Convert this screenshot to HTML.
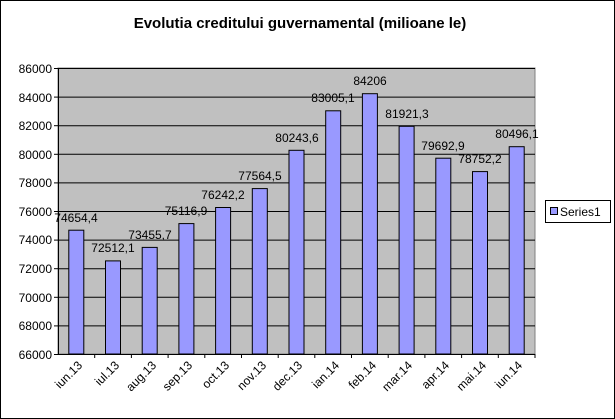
<!DOCTYPE html>
<html><head><meta charset="utf-8"><style>
html,body{margin:0;padding:0;background:#fff}
svg{display:block}
text{font-family:"Liberation Sans",Arial,sans-serif;fill:#000}
</style></head><body>
<svg width="615" height="419" viewBox="0 0 615 419">
<rect x="0.5" y="0.5" width="614" height="418" fill="#fff" stroke="#000"/>
<text x="300" y="28" text-anchor="middle" font-size="15" font-weight="bold">Evolutia creditului guvernamental (milioane le)</text>
<rect x="58" y="68" width="477" height="286" fill="#c0c0c0" stroke="#808080"/>
<g stroke="#000" stroke-width="1">
<line x1="58" y1="68.5" x2="535" y2="68.5"/>
<line x1="58" y1="97.1" x2="535" y2="97.1"/>
<line x1="58" y1="125.7" x2="535" y2="125.7"/>
<line x1="58" y1="154.3" x2="535" y2="154.3"/>
<line x1="58" y1="182.9" x2="535" y2="182.9"/>
<line x1="58" y1="211.5" x2="535" y2="211.5"/>
<line x1="58" y1="240.1" x2="535" y2="240.1"/>
<line x1="58" y1="268.7" x2="535" y2="268.7"/>
<line x1="58" y1="297.3" x2="535" y2="297.3"/>
<line x1="58" y1="325.9" x2="535" y2="325.9"/>
<line x1="58.5" y1="68" x2="58.5" y2="354"/>
<line x1="58" y1="354.5" x2="535" y2="354.5"/>
</g>
<g stroke="#000">
<line x1="54" y1="68.5" x2="58" y2="68.5"/><line x1="54" y1="97.1" x2="58" y2="97.1"/><line x1="54" y1="125.7" x2="58" y2="125.7"/><line x1="54" y1="154.3" x2="58" y2="154.3"/><line x1="54" y1="182.9" x2="58" y2="182.9"/><line x1="54" y1="211.5" x2="58" y2="211.5"/><line x1="54" y1="240.1" x2="58" y2="240.1"/><line x1="54" y1="268.7" x2="58" y2="268.7"/><line x1="54" y1="297.3" x2="58" y2="297.3"/><line x1="54" y1="325.9" x2="58" y2="325.9"/><line x1="54" y1="354.5" x2="58" y2="354.5"/>
</g>
<g font-size="12" text-anchor="end">
<text x="52" y="73">86000</text><text x="52" y="102">84000</text><text x="52" y="130">82000</text><text x="52" y="159">80000</text><text x="52" y="187">78000</text><text x="52" y="216">76000</text><text x="52" y="244">74000</text><text x="52" y="273">72000</text><text x="52" y="302">70000</text><text x="52" y="330">68000</text><text x="52" y="359">66000</text>
</g>
<g fill="#9999ff" stroke="#000" stroke-width="1">
<rect x="68.8" y="230.2" width="15" height="123.8"/>
<rect x="105.5" y="260.9" width="15" height="93.1"/>
<rect x="142.2" y="247.4" width="15" height="106.6"/>
<rect x="178.9" y="223.6" width="15" height="130.4"/>
<rect x="215.6" y="207.5" width="15" height="146.5"/>
<rect x="252.3" y="188.6" width="15" height="165.4"/>
<rect x="289" y="150.3" width="15" height="203.7"/>
<rect x="325.7" y="110.8" width="15" height="243.2"/>
<rect x="362.4" y="93.7" width="15" height="260.3"/>
<rect x="399.1" y="126.3" width="15" height="227.7"/>
<rect x="435.8" y="158.2" width="15" height="195.8"/>
<rect x="472.5" y="171.6" width="15" height="182.4"/>
<rect x="509.2" y="146.7" width="15" height="207.3"/>
</g>
<g font-size="12" text-anchor="middle">
<text x="76" y="222">74654,4</text>
<text x="113" y="252">72512,1</text>
<text x="150" y="239">73455,7</text>
<text x="186" y="215">75116,9</text>
<text x="223" y="199">76242,2</text>
<text x="260" y="180">77564,5</text>
<text x="297" y="142">80243,6</text>
<text x="333" y="102">83005,1</text>
<text x="370" y="85">84206</text>
<text x="407" y="118">81921,3</text>
<text x="443" y="150">79692,9</text>
<text x="480" y="163">78752,2</text>
<text x="517" y="138">80496,1</text>
</g>
<g stroke="#000">
<line x1="94.7" y1="354" x2="94.7" y2="358"/><line x1="131.4" y1="354" x2="131.4" y2="358"/><line x1="168.1" y1="354" x2="168.1" y2="358"/><line x1="204.8" y1="354" x2="204.8" y2="358"/><line x1="241.5" y1="354" x2="241.5" y2="358"/><line x1="278.2" y1="354" x2="278.2" y2="358"/><line x1="314.8" y1="354" x2="314.8" y2="358"/><line x1="351.5" y1="354" x2="351.5" y2="358"/><line x1="388.2" y1="354" x2="388.2" y2="358"/><line x1="424.9" y1="354" x2="424.9" y2="358"/><line x1="461.6" y1="354" x2="461.6" y2="358"/><line x1="498.3" y1="354" x2="498.3" y2="358"/><line x1="535" y1="354" x2="535" y2="358"/>
</g>
<g font-size="12" text-anchor="end">
<text transform="translate(83,366) rotate(-45)">iun.13</text>
<text transform="translate(120,366) rotate(-45)">iul.13</text>
<text transform="translate(157,366) rotate(-45)">aug.13</text>
<text transform="translate(193,366) rotate(-45)">sep.13</text>
<text transform="translate(230,366) rotate(-45)">oct.13</text>
<text transform="translate(267,366) rotate(-45)">nov.13</text>
<text transform="translate(303,366) rotate(-45)">dec.13</text>
<text transform="translate(340,366) rotate(-45)">ian.14</text>
<text transform="translate(377,366) rotate(-45)">feb.14</text>
<text transform="translate(413,366) rotate(-45)">mar.14</text>
<text transform="translate(450,366) rotate(-45)">apr.14</text>
<text transform="translate(487,366) rotate(-45)">mai.14</text>
<text transform="translate(523,366) rotate(-45)">iun.14</text>
</g>
<rect x="545.5" y="200.5" width="65" height="22" fill="#fff" stroke="#000"/>
<rect x="550.5" y="207.5" width="7" height="7" fill="#9999ff" stroke="#000"/>
<text x="560" y="216" font-size="12">Series1</text>
</svg>
</body></html>
